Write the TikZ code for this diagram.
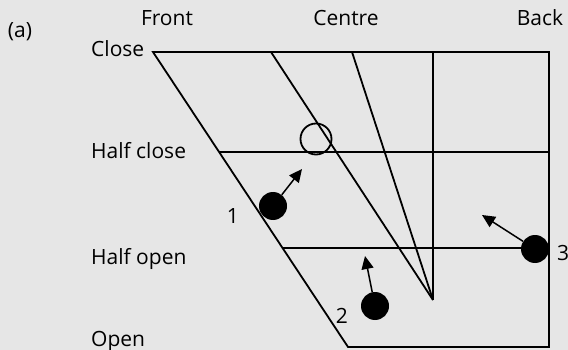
\documentclass[tikz,border=0pt]{standalone}
\usepackage{fontspec}
\setmainfont{Open Sans}
\usepackage{tikz}
\usetikzlibrary{arrows.meta, positioning}
\definecolor{mybg}{RGB}{230,230,230}
\definecolor{mydark}{RGB}{0,0,0}
\tikzset{
  axislabel/.style={font=\fontsize{21}{24}\selectfont, inner sep=0pt, text=mydark},
  vowel/.style={circle, fill=mydark, minimum size=28pt, inner sep=0pt},
  target/.style={circle, draw=mydark, minimum size=31pt, inner sep=0pt, line width=1.8pt},
  frame/.style={line width=1.8pt, color=mydark},
  arrow/.style={-{Triangle[length=13pt,width=12pt]}, line width=1.5pt, color=mydark}
}

\begin{document}
\begin{tikzpicture}[x=1pt, y=-1pt]
  \fill[mybg] (0,0) rectangle (568,350);
  \useasboundingbox (0,0) rectangle (568,350);

  % chart corners
  \coordinate (tl) at (153,52);
  \coordinate (tr) at (549,52);
  \coordinate (br) at (549,347);
  \coordinate (bl) at (348,347);
  \coordinate (hcl) at (219,152);
  \coordinate (hcr) at (549,152);
  \coordinate (hol) at (282.6,248);
  \coordinate (hor) at (549,248);
  \coordinate (apex) at (433,300);

  \draw[frame] (tl) -- (tr) -- (br) -- (bl) -- cycle;
  \draw[frame] (hcl) -- (hcr);
  \draw[frame] (hol) -- (hor);
  \draw[frame] (433,52) -- (apex);
  \draw[frame] (271,52) -- (apex);
  \draw[frame] (352,52) -- (apex);

  % labels
  \node[axislabel, anchor=base] (tag) at (20,38) {(a)};
  \node[axislabel, anchor=base] (front) at (167,26) {Front};
  \node[axislabel, anchor=base] (centre) at (346,26) {Centre};
  \node[axislabel, anchor=base] (back) at (540,26) {Back};
  \node[axislabel, anchor=base west] (close) at (91,57) {Close};
  \node[axislabel, anchor=base west] (hclose) at (91,159) {Half close};
  \node[axislabel, anchor=base west] (hopen) at (91,264) {Half open};
  \node[axislabel, anchor=base west] (open) at (91,346) {Open};

  % vowels
  \node[target] (goal) at (316,139) {};
  \node[vowel] (vone) at (273,206) {};
  \node[vowel] (vtwo) at (375,306) {};
  \node[vowel] (vthree) at (535,249) {};
  \node[axislabel, anchor=base] (lone) at (233,223) {1};
  \node[axislabel, anchor=base] (ltwo) at (342,323) {2};
  \node[axislabel, anchor=base] (lthree) at (563,260) {3};

  \coordinate (tone) at (302,169);
  \coordinate (ttwo) at (365,256);
  \coordinate (tthree) at (482,215);
  \draw[arrow] (vone) -- (tone);
  \draw[arrow] (vtwo) -- (ttwo);
  \draw[arrow] (vthree) -- (tthree);
\end{tikzpicture}
\end{document}
